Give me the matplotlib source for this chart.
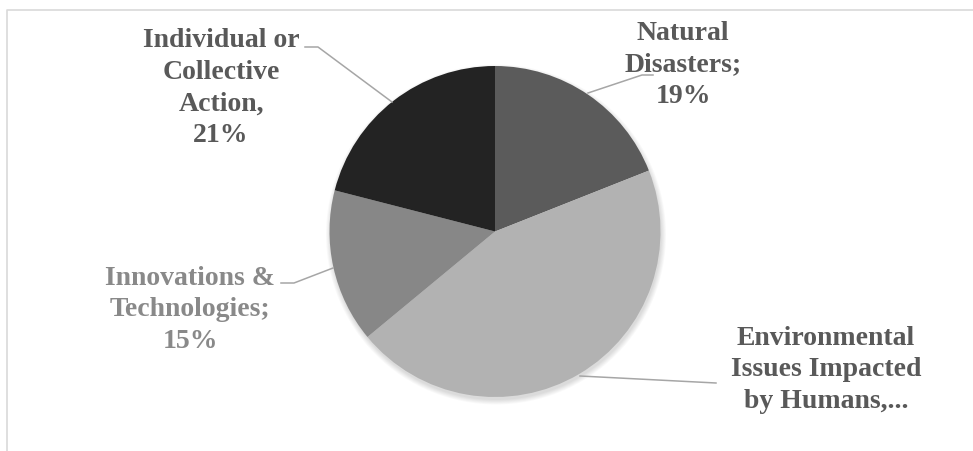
import matplotlib.pyplot as plt
from matplotlib.patches import Circle

# data
labels = ['Natural\nDisasters;\n19%',
          'Environmental\nIssues Impacted\nby Humans,...',
          'Innovations &\nTechnologies;\n15%',
          'Individual or\nCollective\nAction,\n21%']
shares = [19, 45, 15, 21]
slice_colors = ['#5b5b5b', '#b2b2b2', '#878787', '#232323']
text_colors = ['#595959', '#595959', '#898989', '#595959']

# label block centers and leader lines (pixel coords)
label_pos = [(683, 65), (826, 370), (190, 310), (221, 88)]
leaders = [
    [(588, 94), (642, 76), (653, 76)],
    [(580, 377), (716, 384)],
    [(333, 269), (294, 284), (281, 284)],
    [(392, 103), (318, 48), (305, 48)],
]

cx, cy, r = 495, 232.5, 165.5

fig = plt.figure(figsize=(9.73, 4.52), dpi=100)
ax = fig.add_axes([0, 0, 1, 1])

# soft shadow under the pie
for i in range(6):
    ax.add_patch(Circle((cx + 1, cy + 3), r + i * 0.9, color='black',
                        alpha=0.025, lw=0, zorder=0))

# y axis points down, so counterclock in data = clockwise on screen
ax.pie(shares, colors=slice_colors, startangle=-90, counterclock=True,
       center=(cx, cy), radius=r,
       wedgeprops={'linewidth': 0, 'zorder': 1})

ax.set_xlim(0, 973)
ax.set_ylim(452, 0)
ax.axis('off')

# outer chart frame (cropped at right/bottom)
ax.plot([6.5, 6.5, 990], [470, 10.5, 10.5], color='#d9d9d9', lw=1.2,
        solid_capstyle='butt')

for pts in leaders:
    xs = [p[0] for p in pts]
    ys = [p[1] for p in pts]
    ax.plot(xs, ys, color='#a6a6a6', lw=1.1, zorder=2)

for lab, (x, y), c in zip(labels, label_pos, text_colors):
    ax.text(x, y, lab, ha='center', va='center', multialignment='center',
            fontsize=20, fontweight='bold', family='Liberation Serif',
            color=c, linespacing=1.34)

fig.savefig('out.png', dpi=100)
